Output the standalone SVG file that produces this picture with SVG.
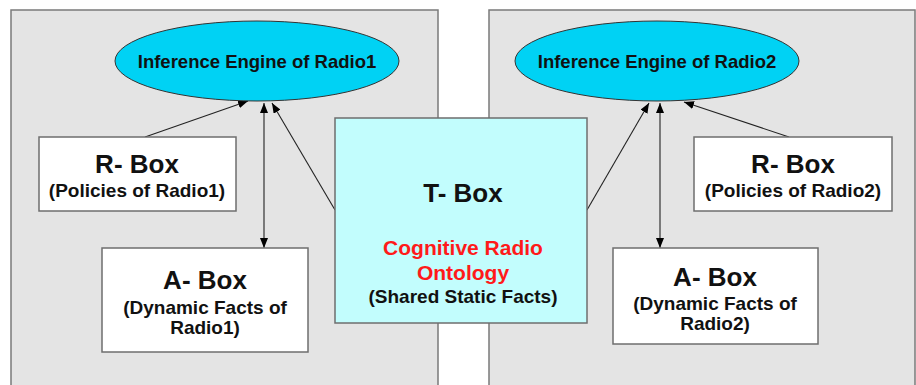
<svg xmlns="http://www.w3.org/2000/svg" width="916" height="385" viewBox="0 0 916 385">
  <defs>
    <marker id="arrow" viewBox="0 0 10 8" refX="10" refY="4" markerWidth="10" markerHeight="8" markerUnits="userSpaceOnUse" orient="auto-start-reverse">
      <path d="M0,0 L10,4 L0,8 Z" fill="#000"/>
    </marker>
    <style>
      .panel { fill: #e4e4e4; stroke: #7a7a7a; stroke-width: 1.5; }
      .engine { fill: #00d2f4; stroke: #333; stroke-width: 1; }
      .box { fill: #ffffff; stroke: #6e6e6e; stroke-width: 1.5; }
      .tbox { fill: #c2fdfd; stroke: #6e6e6e; stroke-width: 1.5; }
      text { font-family: "Liberation Sans", Arial, sans-serif; font-weight: bold; text-anchor: middle; fill: #111; }
      .title { font-size: 26px; }
      .sub { font-size: 19px; }
      .eng { font-size: 18.5px; }
      .red { fill: #ff1a1a; font-size: 21px; }
      .conn line { stroke: #222; stroke-width: 1.1; fill: none; }
    </style>
  </defs>

  <!-- background -->
  <rect x="0" y="0" width="916" height="385" fill="#ffffff"/>

  <!-- radio panels -->
  <g id="panel-radio1">
    <rect class="panel" x="11" y="10" width="427" height="395"/>
  </g>
  <g id="panel-radio2">
    <rect class="panel" x="489" y="10" width="426" height="395"/>
  </g>

  <!-- connectors -->
  <g id="connectors" class="conn">
    <line x1="145" y1="137" x2="248" y2="101" marker-end="url(#arrow)"/>
    <line x1="264" y1="248" x2="264" y2="103" marker-start="url(#arrow)" marker-end="url(#arrow)"/>
    <line x1="335" y1="210" x2="272" y2="103" marker-end="url(#arrow)"/>
    <line x1="587" y1="210" x2="649" y2="103" marker-end="url(#arrow)"/>
    <line x1="660" y1="248" x2="660" y2="103" marker-start="url(#arrow)" marker-end="url(#arrow)"/>
    <line x1="789" y1="137" x2="684" y2="102" marker-end="url(#arrow)"/>
  </g>

  <!-- inference engines -->
  <g id="engine-radio1">
    <ellipse class="engine" cx="257" cy="61" rx="142" ry="40"/>
    <text class="eng" x="257" y="68">Inference Engine of Radio1</text>
  </g>
  <g id="engine-radio2">
    <ellipse class="engine" cx="657" cy="61" rx="142" ry="40"/>
    <text class="eng" x="657" y="68">Inference Engine of Radio2</text>
  </g>

  <!-- R-Boxes -->
  <g id="rbox-radio1">
    <rect class="box" x="39" y="137" width="197" height="74"/>
    <text class="title" x="137" y="173">R- Box</text>
    <text class="sub" x="137" y="197">(Policies of Radio1)</text>
  </g>
  <g id="rbox-radio2">
    <rect class="box" x="694" y="137" width="198" height="74"/>
    <text class="title" x="793" y="173">R- Box</text>
    <text class="sub" x="793" y="197">(Policies of Radio2)</text>
  </g>

  <!-- A-Boxes -->
  <g id="abox-radio1">
    <rect class="box" x="102" y="248" width="206" height="104"/>
    <text class="title" x="205" y="289">A- Box</text>
    <text class="sub" x="205" y="314">(Dynamic Facts of</text>
    <text class="sub" x="205" y="334">Radio1)</text>
  </g>
  <g id="abox-radio2">
    <rect class="box" x="613" y="248" width="205" height="96"/>
    <text class="title" x="715" y="286">A- Box</text>
    <text class="sub" x="715" y="310">(Dynamic Facts of</text>
    <text class="sub" x="715" y="330">Radio2)</text>
  </g>

  <!-- shared T-Box -->
  <g id="tbox">
    <rect class="tbox" x="335" y="118" width="252" height="205"/>
    <text class="title" x="463" y="202">T- Box</text>
    <text class="red" x="463" y="255">Cognitive Radio</text>
    <text class="red" x="463" y="280">Ontology</text>
    <text class="sub" x="463" y="303">(Shared Static Facts)</text>
  </g>
</svg>
